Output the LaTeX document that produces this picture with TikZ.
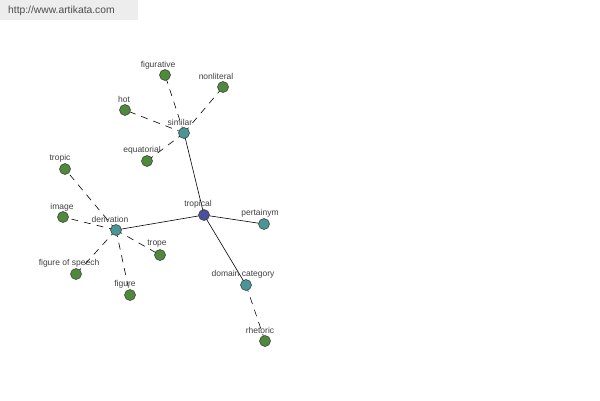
\documentclass[tikz,border=0pt]{standalone}
\usepackage{fontspec}
\setmainfont{Liberation Sans}
\begin{document}
\begin{tikzpicture}[x=1pt,y=-1pt,
  vtx/.style={circle,draw=black!80,line width=0.5pt,minimum size=11pt,inner sep=0pt},
  grn/.style={vtx,fill={rgb,255:red,79;green,138;blue,60}},
  tea/.style={vtx,fill={rgb,255:red,74;green,150;blue,150}},
  blu/.style={vtx,fill={rgb,255:red,74;green,80;blue,155}},
  lbl/.style={font=\fontsize{8.5}{10}\selectfont,text=black!75,inner sep=0pt},
  solidedge/.style={line width=0.6pt,black},
  dashedge/.style={line width=0.6pt,black,dash pattern=on 7pt off 6pt}]
\useasboundingbox (0,0) rectangle (600,400);
\fill[white] (0,0) rectangle (600,400);
\fill[black!7] (0,0) rectangle (138,20);
\node[font=\fontsize{10.3}{12}\selectfont,text=black!70,anchor=west,inner sep=0pt] (wm) at (8,11) {http://www.artikata.com};
% nodes
\coordinate (tropical) at (204,215);
\coordinate (similar) at (184,133);
\coordinate (derivation) at (116,230);
\coordinate (pertainym) at (264,224);
\coordinate (domain) at (246,285);
\coordinate (rhetoric) at (265,341);
\coordinate (figurative) at (165,75);
\coordinate (nonliteral) at (223,87);
\coordinate (hot) at (125,110);
\coordinate (equatorial) at (147,161);
\coordinate (tropic) at (65,169);
\coordinate (image) at (63,217);
\coordinate (speech) at (76,274);
\coordinate (figure) at (130,295);
\coordinate (trope) at (160,255);
% edges
\draw[solidedge] (tropical) -- (similar);
\draw[solidedge] (tropical) -- (derivation);
\draw[solidedge] (tropical) -- (pertainym);
\draw[solidedge] (tropical) -- (domain);
\draw[dashedge] (domain) -- (rhetoric);
\draw[dashedge] (similar) -- (figurative);
\draw[dashedge] (similar) -- (nonliteral);
\draw[dashedge] (similar) -- (hot);
\draw[dashedge] (similar) -- (equatorial);
\draw[dashedge] (derivation) -- (tropic);
\draw[dashedge] (derivation) -- (image);
\draw[dashedge] (derivation) -- (speech);
\draw[dashedge] (derivation) -- (figure);
\draw[dashedge] (derivation) -- (trope);
% vertices
\node[blu] (ntropical) at (tropical) {};
\node[tea] (nsimilar) at (similar) {};
\node[tea] (nderivation) at (derivation) {};
\node[tea] (npertainym) at (pertainym) {};
\node[tea] (ndomain) at (domain) {};
\node[grn] (nrhetoric) at (rhetoric) {};
\node[grn] (nfigurative) at (figurative) {};
\node[grn] (nnonliteral) at (nonliteral) {};
\node[grn] (nhot) at (hot) {};
\node[grn] (nequatorial) at (equatorial) {};
\node[grn] (ntropic) at (tropic) {};
\node[grn] (nimage) at (image) {};
\node[grn] (nspeech) at (speech) {};
\node[grn] (nfigure) at (figure) {};
\node[grn] (ntrope) at (trope) {};
% labels
\node[lbl] (ltropical) at (198,204) {tropical};
\node[lbl] (lsimilar) at (180,122) {similar};
\node[lbl] (lderivation) at (110,219) {derivation};
\node[lbl] (lpertainym) at (260,213) {pertainym};
\node[lbl] (ldomain) at (243,274) {domain category};
\node[lbl] (lrhetoric) at (260,330) {rhetoric};
\node[lbl] (lfigurative) at (158,65) {figurative};
\node[lbl] (lnonliteral) at (216,76) {nonliteral};
\node[lbl] (lhot) at (124,99) {hot};
\node[lbl] (lequatorial) at (142,150) {equatorial};
\node[lbl] (ltropic) at (60,158) {tropic};
\node[lbl] (limage) at (62,207) {image};
\node[lbl] (ltrope) at (157,244) {trope};
\node[lbl] (lspeech) at (69,263) {figure of speech};
\node[lbl] (lfigure) at (125,284) {figure};
\end{tikzpicture}
\end{document}
